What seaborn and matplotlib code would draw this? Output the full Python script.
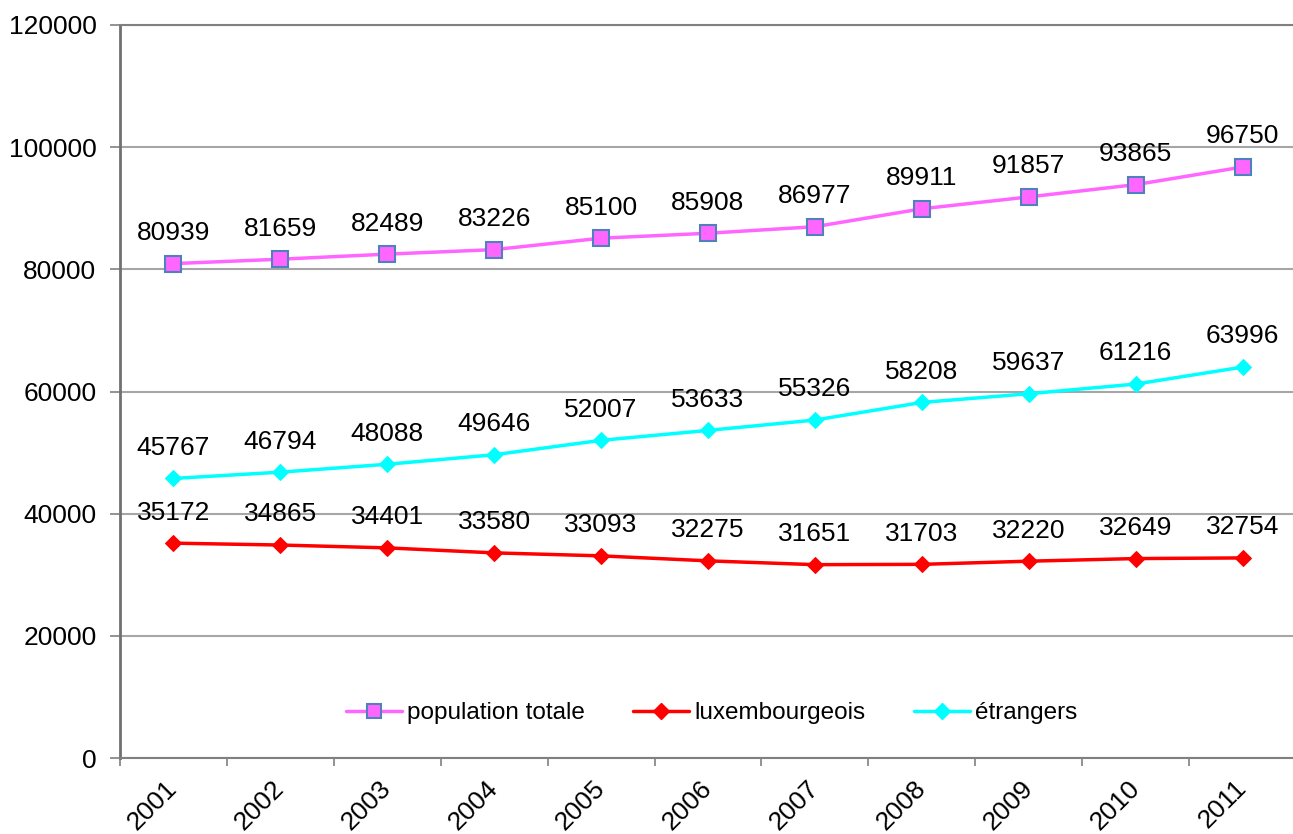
import numpy as np
import pandas as pd
import matplotlib
matplotlib.use("Agg")
import matplotlib.pyplot as plt
from matplotlib.lines import Line2D
import seaborn as sns

years = [2001, 2002, 2003, 2004, 2005, 2006, 2007, 2008, 2009, 2010, 2011]
population_totale = [80939, 81659, 82489, 83226, 85100, 85908, 86977, 89911, 91857, 93865, 96750]
luxembourgeois = [35172, 34865, 34401, 33580, 33093, 32275, 31651, 31703, 32220, 32649, 32754]
etrangers = [45767, 46794, 48088, 49646, 52007, 53633, 55326, 58208, 59637, 61216, 63996]

df = pd.DataFrame({
    "year": years,
    "population totale": population_totale,
    "luxembourgeois": luxembourgeois,
    "étrangers": etrangers,
})
long_df = df.melt(id_vars="year", var_name="serie", value_name="habitants")

sns.set_style("white")
plt.rcParams["font.family"] = ["Liberation Sans", "DejaVu Sans"]
plt.rcParams["text.color"] = "black"
plt.rcParams["xtick.labelcolor"] = "black"
plt.rcParams["ytick.labelcolor"] = "black"

fig = plt.figure(figsize=(12.93, 8.34), dpi=100)
ax = fig.add_axes([120 / 1293, 76 / 834, 1176 / 1293, 733 / 834])

palette = {"population totale": "#FF66FF", "luxembourgeois": "#FF0000", "étrangers": "#00FFFF"}
markers = {"population totale": "s", "luxembourgeois": "D", "étrangers": "D"}

sns.lineplot(data=long_df, x="year", y="habitants", hue="serie", style="serie",
             palette=palette, markers=markers, dashes=False, linewidth=2.5,
             ax=ax, legend=False, zorder=3)

# carrés roses bord bleu, petits losanges
for line in ax.lines:
    col = line.get_color()
    if col.upper() == "#FF66FF":
        line.set_markersize(11.5)
        line.set_markeredgecolor("#4F81BD")
        line.set_markeredgewidth(1.5)
    else:
        line.set_markersize(8)
        line.set_markeredgecolor(col)

# étiquettes de données
for ser in ["population totale", "luxembourgeois", "étrangers"]:
    for x, y in zip(df["year"], df[ser]):
        ax.annotate(f"{y}", (x, y), xytext=(0, 17), textcoords="offset points",
                    ha="center", va="baseline", fontsize=19, color="black")

ax.set_xlim(2000.5, 2011.5)
ax.set_ylim(0, 120000)
ax.set_yticks(np.arange(0, 120001, 20000))
ax.set_yticklabels([str(v) for v in range(0, 120001, 20000)], fontsize=19, color="black")
ax.yaxis.grid(True, color="#A6A6A6", linewidth=1.5)
ax.xaxis.grid(False)

ax.set_xticks(np.arange(2000.5, 2011.5, 1.0))
ax.set_xticklabels([])
ax.set_xticks(years, minor=True)
ax.set_xticklabels([str(y) for y in years], minor=True, rotation=45,
                   rotation_mode="anchor", ha="right", va="center",
                   fontsize=19, color="black")
ax.tick_params(axis="x", which="major", length=6, color="#808080", width=1.2, direction="out", bottom=True)
ax.tick_params(axis="x", which="minor", length=0, pad=19)
ax.tick_params(axis="y", length=7, color="#808080", width=1.2, direction="out", left=True, pad=10)

ax.spines["right"].set_visible(False)
ax.spines["top"].set_color("#808080")
ax.spines["top"].set_linewidth(1.5)
ax.spines["left"].set_color("#707070")
ax.spines["left"].set_linewidth(2)
ax.spines["bottom"].set_color("#808080")
ax.spines["bottom"].set_linewidth(1.5)

ax.set_xlabel("")
ax.set_ylabel("")

handles = [
    Line2D([], [], color="#FF66FF", marker="s", markersize=10, markeredgecolor="#4F81BD",
           markeredgewidth=1.5, linewidth=2.5),
    Line2D([], [], color="#FF0000", marker="D", markersize=8, linewidth=2.5),
    Line2D([], [], color="#00FFFF", marker="D", markersize=8, linewidth=2.5),
]
leg = ax.legend(handles, ["population totale", "luxembourgeois", "étrangers"],
                loc="center", bbox_to_anchor=(0.503, 0.061), ncol=3, frameon=False,
                fontsize=17.5, handlelength=2.3, handletextpad=0.2, columnspacing=2.0)
for t in leg.get_texts():
    t.set_color("black")

fig.savefig("out.png", dpi=100)
